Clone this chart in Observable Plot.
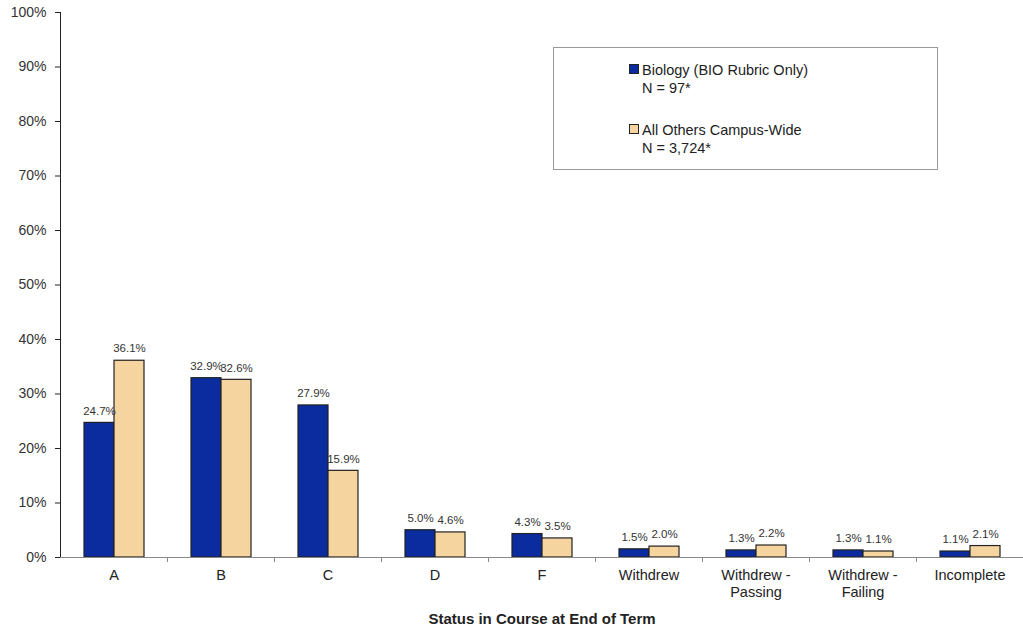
<!DOCTYPE html>
<html>
<head>
<meta charset="utf-8">
<script src="https://cdn.jsdelivr.net/npm/d3@7"></script>
<script src="https://cdn.jsdelivr.net/npm/@observablehq/plot@0.6"></script>
<style>
  body { margin: 0; background: #fff; font-family: "Liberation Sans", Arial, sans-serif; }
  #wrap { position: relative; width: 1023px; height: 630px; }
  #legend { position: absolute; left: 553px; top: 47px; width: 385px; height: 123px; border: 1px solid #999; background: #fff; box-sizing: border-box; font-size: 14.5px; color: #222; }
  .item { position: absolute; left: 75px; line-height: 18px; }
  .sw { display: inline-block; width: 8px; height: 8px; border: 1px solid #222; margin-right: 3px; vertical-align: 1px; }
  svg [aria-label="fx-axis label"] text, svg [aria-label="fx-axis label"] { font-weight: bold; font-size: 15px; }
  svg [aria-label="y-axis tick label"] { font-size: 14px; fill: #333; }
</style>
</head>
<body>
<div id="wrap">
  <div id="chart"></div>
  <div id="legend"></div>
</div>
<script>
const categories = ["A", "B", "C", "D", "F", "Withdrew", "Withdrew -\nPassing", "Withdrew -\nFailing", "Incomplete"];
const seriesNames = ["Biology (BIO Rubric Only)", "All Others Campus-Wide"];
const seriesN = ["N = 97*", "N = 3,724*"];
const biology = [24.7, 32.9, 27.9, 5.0, 4.3, 1.5, 1.3, 1.3, 1.1];
const others = [36.1, 32.6, 15.9, 4.6, 3.5, 2.0, 2.2, 1.1, 2.1];
const yTicks = [0, 10, 20, 30, 40, 50, 60, 70, 80, 90, 100];
const colors = ["#0b2c9e", "#f6d4a0"];

const data = [];
categories.forEach((c, i) => {
  data.push({category: c, series: seriesNames[0], value: biology[i]});
  data.push({category: c, series: seriesNames[1], value: others[i]});
});

const width = 1023, height = 630;
const marginLeft = 60, marginRight = 0, marginTop = 12, marginBottom = 73;
const step = (width - marginLeft - marginRight) / categories.length;

const chart = Plot.plot({
  width, height, marginLeft, marginRight, marginTop, marginBottom,
  style: {fontFamily: "'Liberation Sans', Arial, sans-serif", fontSize: "13px", color: "#222", background: "#fff"},
  fx: {domain: categories, padding: 0},
  x: {domain: seriesNames, paddingInner: 0, paddingOuter: 0.73, axis: null},
  y: {domain: [0, 100], ticks: yTicks, tickFormat: d => d + "%", tickSize: 5, tickPadding: 9, line: true, label: null},
  color: {domain: seriesNames, range: colors},
  marks: [
    Plot.axisFx({anchor: "bottom", tickSize: 0, tickPadding: 11, lineHeight: 1.15, fontSize: 14.5, fill: "#222",
      label: "Status in Course at End of Term", labelAnchor: "center", labelOffset: 66}),
    Plot.axisFx({anchor: "bottom", tickSize: 5, dx: step / 2, tickFormat: () => "", label: null, stroke: "#888"}),
    Plot.barY(data, {fx: "category", x: "series", y: "value", fill: "series", stroke: "#222", strokeWidth: 1.2}),
    Plot.ruleY([0], {stroke: "#888"}),
    Plot.text(data, {fx: "category", x: "series", y: "value", text: d => d.value.toFixed(1) + "%",
      dy: -12, fontSize: 11.5, fill: "#333"})
  ]
});
document.getElementById("chart").appendChild(chart);

const legend = document.getElementById("legend");
const tops = [13, 73];
seriesNames.forEach((s, i) => {
  const el = document.createElement("div");
  el.className = "item";
  el.style.top = tops[i] + "px";
  el.innerHTML = `<span class="sw" style="background:${colors[i]}"></span>${s}<br><span style="padding-left:13px">${seriesN[i]}</span>`;
  legend.appendChild(el);
});
</script>
</body>
</html>
